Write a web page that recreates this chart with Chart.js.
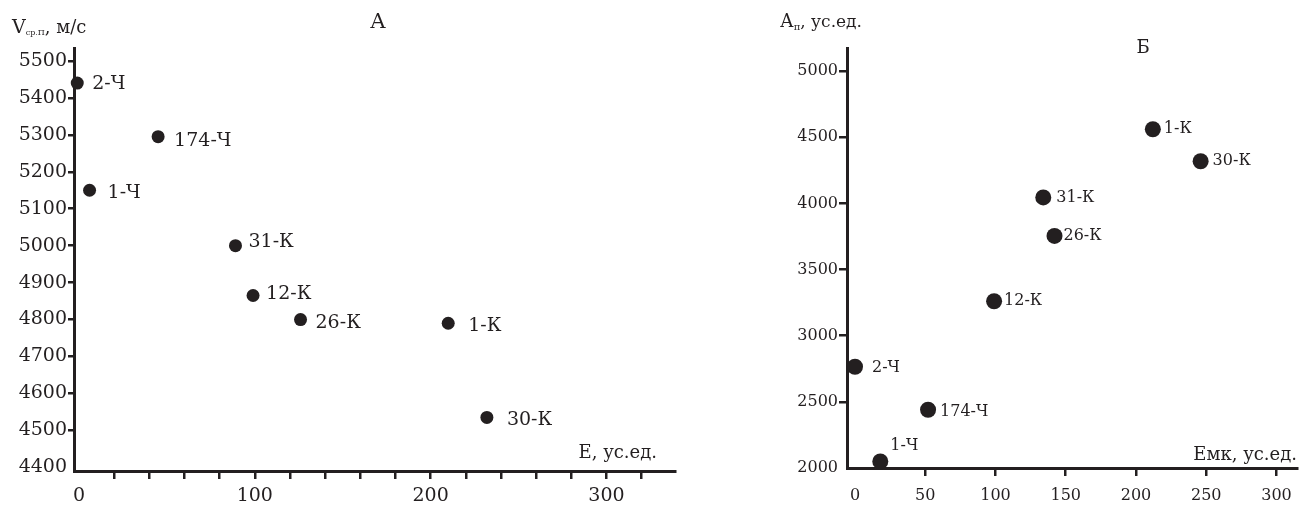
<!DOCTYPE html>
<html>
<head>
<meta charset="utf-8">
<script src="https://cdn.jsdelivr.net/npm/chart.js@4.4.1/dist/chart.umd.min.js"></script>
<style>
  html, body { margin: 0; padding: 0; background: #fff; }
  #wrap { position: relative; width: 1305px; height: 508px; }
  .box { position: absolute; top: 0; height: 508px; }
  #box-a { left: 0; width: 700px; }
  #box-b { left: 770px; width: 535px; }
</style>
</head>
<body>
<div id="wrap">
  <div class="box" id="box-a"><canvas id="chart-a"></canvas></div>
  <div class="box" id="box-b"><canvas id="chart-b"></canvas></div>
</div>
<script>
// Скважины (одинаковый порядок для обеих панелей)
const wells = ['2-Ч', '174-Ч', '1-Ч', '31-К', '12-К', '26-К', '1-К', '30-К'];

// Панель А: E, ус.ед. / Vср.П, м/с
const aE = [-1, 45, 6, 89, 99, 126, 210, 232];
const aV = [5440, 5295, 5150, 5000, 4865, 4800, 4790, 4535];
const aXTicks = [0, 100, 200, 300];
const aXMinor = [0, 20, 40, 60, 80, 100, 120, 140, 160, 180, 200, 220, 240, 260, 280, 300, 320];
const aYTicks = [4400, 4500, 4600, 4700, 4800, 4900, 5000, 5100, 5200, 5300, 5400, 5500];

// Панель Б: Емк, ус.ед. / Ап, ус.ед.
const bEmk = [0, 52, 18, 134, 99, 142, 212, 246];
const bA = [2765, 2440, 2050, 4045, 3260, 3754, 4560, 4318];
const bXTicks = [0, 50, 100, 150, 200, 250, 300];
const bYTicks = [2000, 2500, 3000, 3500, 4000, 4500, 5000];

// смещения подписей точек
const aLabelDx = [15, 16, 18, 13, 13, 15, 20, 20];
const aLabelDy = [1, 4, 3, -4, -1, 4, 3, 3];
const bLabelDx = [17, 12, 10, 13, 10, 9, 11, 12];
const bLabelDy = [1, 2, -16, 0, 0, 0, 0, 0];

const INK = '#231f20';
const FONT = 'DejaVu Serif';

// подписи рядом с точками
const pointLabels = {
  id: 'pointLabels',
  afterDatasetsDraw(chart, args, opts) {
    const ctx = chart.ctx;
    const meta = chart.getDatasetMeta(0);
    ctx.save();
    ctx.font = opts.font;
    ctx.fillStyle = INK;
    ctx.textBaseline = 'middle';
    ctx.textAlign = 'left';
    meta.data.forEach((pt, i) => {
      ctx.fillText(opts.labels[i], pt.x + opts.dx[i], pt.y + opts.dy[i]);
    });
    ctx.restore();
  }
};

function drawRuns(ctx, x, y, runs) {
  runs.forEach(r => {
    ctx.font = r.font;
    ctx.fillText(r.text, x, y + (r.dy || 0));
    x += ctx.measureText(r.text).width;
  });
}

// заголовок панели и подписи осей
const captions = {
  id: 'captions',
  afterDraw(chart, args, opts) {
    const ctx = chart.ctx;
    const a = chart.chartArea;
    ctx.save();
    ctx.fillStyle = INK;
    ctx.textBaseline = 'alphabetic';

    ctx.font = opts.titleFont;
    ctx.textAlign = 'center';
    ctx.fillText(opts.title, opts.titleX, opts.titleY);

    ctx.textAlign = 'right';
    ctx.font = opts.xFont;
    ctx.fillText(opts.xTitle, a.right - opts.xTitleInset, a.bottom - opts.xTitleLift);

    ctx.textAlign = 'left';
    drawRuns(ctx, opts.yTitleX, opts.yTitleY, opts.yTitle);
    ctx.restore();
  }
};

function tickColor(skip) {
  return c => (c.tick && c.tick.value === skip) ? 'rgba(0,0,0,0)' : INK;
}

function axisOpts(o) {
  return {
    type: 'linear',
    min: o.min,
    max: o.max,
    afterFit: o.fit,
    afterBuildTicks: s => { s.ticks = o.values.map(v => ({ value: v })); },
    border: { display: true, color: INK, width: 3 },
    grid: {
      display: true,
      drawOnChartArea: false,
      drawTicks: true,
      tickLength: o.tickLength,
      color: tickColor(o.skip),
      lineWidth: 2.5
    },
    ticks: {
      autoSkip: false,
      maxRotation: 0,
      color: INK,
      padding: o.padding,
      font: { family: FONT, size: o.fontSize },
      callback: o.callback || (v => String(v))
    }
  };
}

function makeChart(id, cfg) {
  const ctx = document.getElementById(id).getContext('2d');
  return new Chart(ctx, {
    type: 'scatter',
    data: {
      datasets: [{
        data: cfg.xs.map((x, i) => ({ x, y: cfg.ys[i] })),
        backgroundColor: INK,
        borderWidth: 0,
        pointRadius: cfg.radius,
        pointHoverRadius: cfg.radius,
        clip: false
      }]
    },
    options: {
      responsive: true,
      maintainAspectRatio: false,
      animation: false,
      layout: { padding: cfg.padding },
      plugins: {
        legend: { display: false },
        tooltip: { enabled: false },
        pointLabels: cfg.pointLabels,
        captions: cfg.captions
      },
      scales: { x: cfg.x, y: cfg.y }
    },
    plugins: [pointLabels, captions]
  });
}

makeChart('chart-a', {
  xs: aE,
  ys: aV,
  radius: 6.5,
  padding: { top: 48, right: 25, left: 0, bottom: 0 },
  x: axisOpts({
    min: -2.85, max: 339, values: aXMinor, skip: 0, tickLength: 8, padding: 6, fontSize: 19,
    fit: s => { s.height = 37; },
    callback: v => aXTicks.includes(v) ? String(v) : ''
  }),
  y: axisOpts({
    min: 4390, max: 5535, values: aYTicks, skip: 4400, tickLength: 6, padding: 1, fontSize: 19,
    fit: s => { s.width = 74; }
  }),
  pointLabels: {
    labels: wells, dx: aLabelDx, dy: aLabelDy, font: '19px ' + FONT
  },
  captions: {
    title: 'А', titleFont: '21px ' + FONT, titleX: 378, titleY: 28,
    xTitle: 'Е, ус.ед.', xFont: '18px ' + FONT, xTitleInset: 18, xTitleLift: 13,
    yTitleX: 12, yTitleY: 33,
    yTitle: [
      { text: 'V', font: '19px ' + FONT },
      { text: 'ср.П', font: '8px ' + FONT, dy: 2 },
      { text: ', м/с', font: '18px ' + FONT }
    ]
  }
});

makeChart('chart-b', {
  xs: bEmk,
  ys: bA,
  radius: 8,
  padding: { top: 48, right: 8, left: 0, bottom: 0 },
  x: axisOpts({
    min: -5.7, max: 314.6, values: bXTicks, skip: 0, tickLength: 8, padding: 10, fontSize: 16,
    fit: s => { s.height = 40; }
  }),
  y: axisOpts({
    min: 2000, max: 5174, values: bYTicks, skip: 2000, tickLength: 8, padding: 1, fontSize: 16,
    fit: s => { s.width = 77; }
  }),
  pointLabels: {
    labels: wells, dx: bLabelDx, dy: bLabelDy, font: '16px ' + FONT
  },
  captions: {
    title: 'Б', titleFont: '18px ' + FONT, titleX: 1143 - 770, titleY: 53,
    xTitle: 'Емк, ус.ед.', xFont: '18px ' + FONT, xTitleInset: 0, xTitleLift: 8,
    yTitleX: 10, yTitleY: 27,
    yTitle: [
      { text: 'А', font: '18px ' + FONT },
      { text: 'п', font: '10px ' + FONT, dy: 3 },
      { text: ', ус.ед.', font: '17px ' + FONT }
    ]
  }
});
</script>
</body>
</html>
